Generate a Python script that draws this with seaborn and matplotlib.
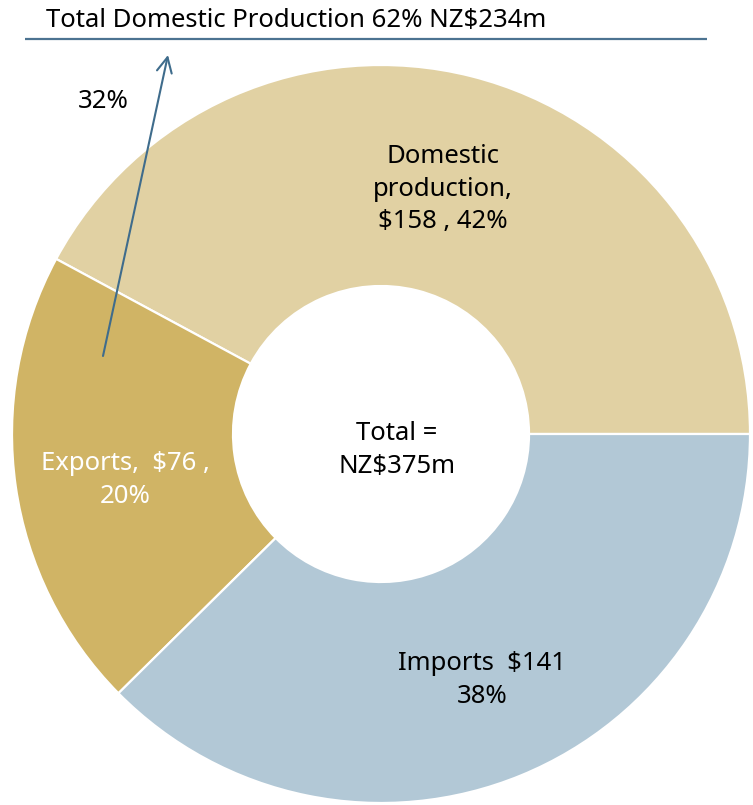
import matplotlib
matplotlib.use("Agg")
import matplotlib.pyplot as plt
import seaborn as sns

# Market composition, NZ$ millions
segments = ["Domestic production", "Exports", "Imports"]
values = [158, 76, 141]
shares = [42, 20, 38]
domestic_total = 234
domestic_share = 62
export_share_of_domestic = 32
grand_total = 375

sns.set_theme(style="white")
plt.rcParams["font.family"] = ["Noto Sans", "DejaVu Sans"]

colors = sns.color_palette(["#E1D1A3", "#D0B465", "#B2C8D6"])

W, H = 753, 805
fig = plt.figure(figsize=(W / 100, H / 100), dpi=100)
ax = fig.add_axes([0, 0, 1, 1])

cx, cy, R, r_in = 381, H - 434, 369, 148
ax.pie(values, colors=colors, startangle=0, counterclock=True,
       center=(cx, cy), radius=R,
       wedgeprops=dict(width=R - r_in, edgecolor="white", linewidth=1.6))

ax.set_xlim(0, W)
ax.set_ylim(0, H)
ax.set_aspect("auto")
ax.axis("off")

fs = 18.5
ls = 1.38

def ytop(y):
    return H - y

# Heading with rule underneath
ax.text(46, ytop(21), f"Total Domestic Production {domestic_share}% NZ${domestic_total}m",
        fontsize=fs, ha="left", va="center", color="black")
ax.plot([25, 707], [ytop(39), ytop(39)], color="#4C7391", lw=1.6, solid_capstyle="butt")

# Arrow showing the exported part of domestic production
ax.annotate("", xy=(168, ytop(55)), xytext=(103, ytop(356)),
            arrowprops=dict(arrowstyle="->,head_length=0.9,head_width=0.45",
                            color="#3F6C8C", lw=1.5, shrinkA=0, shrinkB=0))
ax.text(103, ytop(102), f"{export_share_of_domestic}%", fontsize=fs,
        ha="center", va="center", color="black")

# Segment labels
ax.text(443, ytop(189), f"Domestic\nproduction,\n${values[0]} , {shares[0]}%",
        fontsize=fs, ha="center", va="center", color="black", linespacing=ls)
ax.text(125, ytop(480), f"Exports,  ${values[1]} ,\n{shares[1]}%",
        fontsize=fs, ha="center", va="center", color="white", linespacing=ls)
ax.text(482, ytop(680), f"Imports  ${values[2]}\n{shares[2]}%",
        fontsize=fs, ha="center", va="center", color="black", linespacing=ls)
ax.text(397, ytop(450), f"Total =\nNZ${grand_total}m",
        fontsize=fs, ha="center", va="center", color="black", linespacing=ls)

fig.savefig("out.png", dpi=100, facecolor="white")
